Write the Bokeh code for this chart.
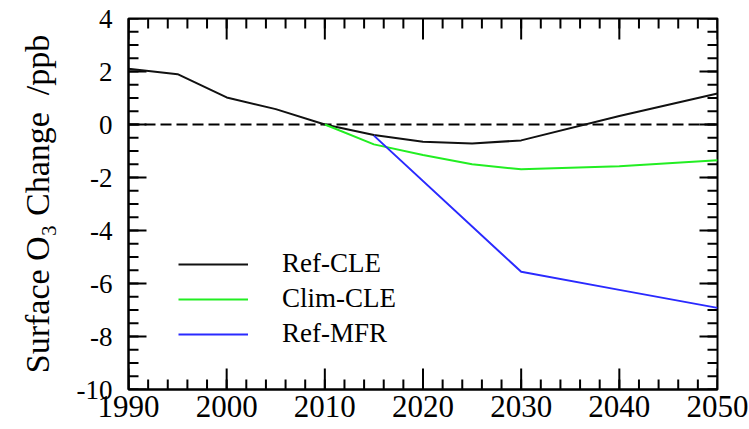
from bokeh.plotting import figure
from bokeh.models import (Range1d, FixedTicker, Span, Legend, LegendItem,
                          CustomJSTickFormatter)
from bokeh.embed import file_html
from bokeh.resources import INLINE

# ---- data ----
years_ref_cle = [1990, 1995, 2000, 2005, 2010, 2015, 2020, 2025, 2030, 2040, 2050]
ref_cle = [2.1, 1.9, 1.02, 0.58, 0.0, -0.4, -0.65, -0.72, -0.6, 0.32, 1.17]

years_clim_cle = [2010, 2015, 2020, 2025, 2030, 2040, 2050]
clim_cle = [0.0, -0.75, -1.15, -1.5, -1.69, -1.58, -1.35]

years_ref_mfr = [2015, 2030, 2040, 2050]
ref_mfr = [-0.42, -5.56, -6.24, -6.92]

series_names = ["Ref-CLE", "Clim-CLE", "Ref-MFR"]
series_colors = ["#111111", "#22ee22", "#2a2aff"]

x_lo, x_hi = 1990, 2050
y_lo, y_hi = -10, 4
x_ticks = [1990, 2000, 2010, 2020, 2030, 2040, 2050]
x_minor = list(range(1990, 2051, 2))
y_ticks = [-10, -8, -6, -4, -2, 0, 2, 4]
y_minor = [v / 2 for v in range(-20, 9)]

FONT = "Liberation Serif"

p = figure(width=749, height=429,
           x_range=Range1d(x_lo, x_hi), y_range=Range1d(y_lo, y_hi),
           output_backend="svg", toolbar_location=None,
           min_border_left=128, min_border_top=18,
           min_border_right=32, min_border_bottom=40)
p.xgrid.visible = False
p.ygrid.visible = False
p.outline_line_color = "black"
p.outline_line_width = 2
p.background_fill_color = "white"
p.border_fill_color = "white"

xa = p.xaxis[0]
xa.ticker = FixedTicker(ticks=x_ticks, minor_ticks=[])
xa.axis_line_width = 2
xa.major_tick_in = 0
xa.major_tick_out = 0
xa.minor_tick_in = 0
xa.minor_tick_out = 0
xa.major_label_text_font = FONT
xa.major_label_text_font_size = "31px"
xa.major_label_text_color = "black"
xa.major_label_standoff = 6

ya = p.yaxis[0]
ya.ticker = FixedTicker(ticks=y_ticks, minor_ticks=[])
ya.formatter = CustomJSTickFormatter(code="return tick.toString()")
ya.axis_line_width = 2
ya.major_tick_in = 0
ya.major_tick_out = 0
ya.minor_tick_in = 0
ya.minor_tick_out = 0
ya.major_label_text_font = FONT
ya.major_label_text_font_size = "27px"
ya.major_label_text_color = "black"
ya.major_label_standoff = 16
ya.axis_label = "Surface O\u2083 Change\u00a0\u00a0/ppb"
ya.axis_label_text_font = FONT
ya.axis_label_text_font_size = "34px"
ya.axis_label_text_font_style = "normal"
ya.axis_label_text_color = "black"
ya.axis_label_standoff = 18

# inward tick marks on all four sides (drawn from the tick lists)
tick_kw = dict(line_color="black", line_width=2, length_units="screen",
               angle_units="deg")
p.ray(x=x_ticks, y=[y_lo] * len(x_ticks), length=21, angle=90, **tick_kw)
p.ray(x=x_ticks, y=[y_hi] * len(x_ticks), length=21, angle=-90, **tick_kw)
p.ray(x=x_minor, y=[y_lo] * len(x_minor), length=10, angle=90, **tick_kw)
p.ray(x=x_minor, y=[y_hi] * len(x_minor), length=10, angle=-90, **tick_kw)
p.ray(x=[x_lo] * len(y_ticks), y=y_ticks, length=18, angle=0, **tick_kw)
p.ray(x=[x_hi] * len(y_ticks), y=y_ticks, length=18, angle=180, **tick_kw)
p.ray(x=[x_lo] * len(y_minor), y=y_minor, length=10, angle=0, **tick_kw)
p.ray(x=[x_hi] * len(y_minor), y=y_minor, length=10, angle=180, **tick_kw)

zero = Span(location=0, dimension="width", line_color="black",
            line_width=2, line_dash="11 5", level="underlay")
p.add_layout(zero)

r1 = p.line(years_ref_cle, ref_cle, line_color=series_colors[0], line_width=2)
r2 = p.line(years_clim_cle, clim_cle, line_color=series_colors[1], line_width=2)
r3 = p.line(years_ref_mfr, ref_mfr, line_color=series_colors[2], line_width=2)

legend = Legend(items=[LegendItem(label=series_names[0], renderers=[r1]),
                       LegendItem(label=series_names[1], renderers=[r2]),
                       LegendItem(label=series_names[2], renderers=[r3])],
                location=(50, 40))
legend.label_text_font = FONT
legend.label_text_font_size = "27px"
legend.label_text_color = "black"
legend.glyph_width = 70
legend.glyph_height = 20
legend.label_standoff = 34
legend.spacing = 4
legend.padding = 0
legend.margin = 0
legend.border_line_alpha = 0
legend.background_fill_alpha = 0
p.add_layout(legend, "center")

open("out.html", "w").write(file_html(p, INLINE))
